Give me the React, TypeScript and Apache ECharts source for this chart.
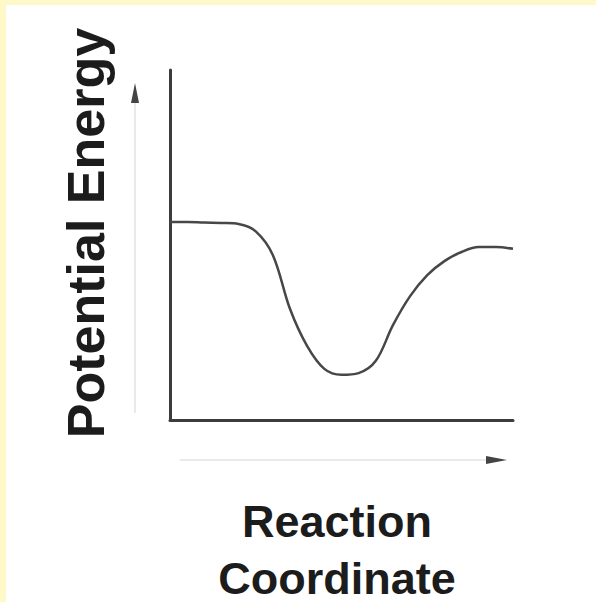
import React, { useEffect, useRef } from "react";
import * as echarts from "echarts";

const reactionCoordinate = [0, 5, 10, 15, 20, 25, 30, 35, 40, 45, 50, 55, 60, 65, 70, 75, 80, 85, 90, 95, 100];
const potentialEnergy = [56.6, 56.6, 56.4, 56.3, 56.0, 53.9, 47.1, 31.7, 21.1, 14.6, 12.9, 13.4, 16.9, 27.1, 35.4, 41.4, 45.4, 48.0, 49.4, 49.4, 48.9];
const yTitle = "Potential Energy";
const xTitleLines = ["Reaction", "Coordinate"];

export default function App() {
  const ref = useRef<HTMLDivElement>(null);
  useEffect(() => {
    if (!ref.current) return;
    const chart = echarts.init(ref.current, null, { renderer: "svg" });
    const data = reactionCoordinate.map((x, i) => [x, potentialEnergy[i]]);
    const font = "Liberation Sans";
    const textStyle = { fontFamily: font, fontWeight: "bold", fill: "#1c1c1c", align: "center", verticalAlign: "middle" };
    chart.setOption({
      animation: false,
      backgroundColor: "#FFF8C8",
      grid: { left: 170, top: 70, right: 83, bottom: 182 },
      xAxis: {
        type: "value",
        min: 0,
        max: 100,
        axisLine: { show: true, onZero: false, lineStyle: { color: "#3c3c3c", width: 3 } },
        axisTick: { show: false },
        axisLabel: { show: false },
        splitLine: { show: false },
      },
      yAxis: {
        type: "value",
        min: 0,
        max: 100,
        axisLine: { show: true, onZero: false, lineStyle: { color: "#3c3c3c", width: 3 } },
        axisTick: { show: false },
        axisLabel: { show: false },
        splitLine: { show: false },
      },
      graphic: [
        { type: "rect", z: -10, shape: { x: 6, y: 5, width: 590, height: 597 }, style: { fill: "#ffffff" } },
        {
          type: "text",
          x: 86,
          y: 233,
          rotation: Math.PI / 2,
          style: { ...textStyle, text: yTitle, fontSize: 52, lineHeight: 52 },
        },
        {
          type: "text",
          x: 337,
          y: 521,
          style: { ...textStyle, text: xTitleLines[0], fontSize: 45, lineHeight: 45 },
        },
        {
          type: "text",
          x: 337,
          y: 578,
          style: { ...textStyle, text: xTitleLines[1], fontSize: 45, lineHeight: 45 },
        },
        { type: "line", shape: { x1: 135, y1: 413, x2: 135, y2: 100 }, style: { stroke: "#d4d4d4", lineWidth: 1 } },
        { type: "polygon", shape: { points: [[135, 83], [131, 103], [139, 103]] }, style: { fill: "#444" } },
        { type: "line", shape: { x1: 180, y1: 460, x2: 488, y2: 460 }, style: { stroke: "#d4d4d4", lineWidth: 1 } },
        { type: "polygon", shape: { points: [[507, 460], [486, 456], [486, 464]] }, style: { fill: "#444" } },
      ],
      series: [
        {
          type: "line",
          data,
          smooth: 0.35,
          symbol: "none",
          lineStyle: { color: "#474747", width: 2.5 },
        },
      ],
    });
    return () => chart.dispose();
  }, []);
  return <div ref={ref} style={{ position: "fixed", left: 0, top: 0, width: 596, height: 602 }} />;
}
